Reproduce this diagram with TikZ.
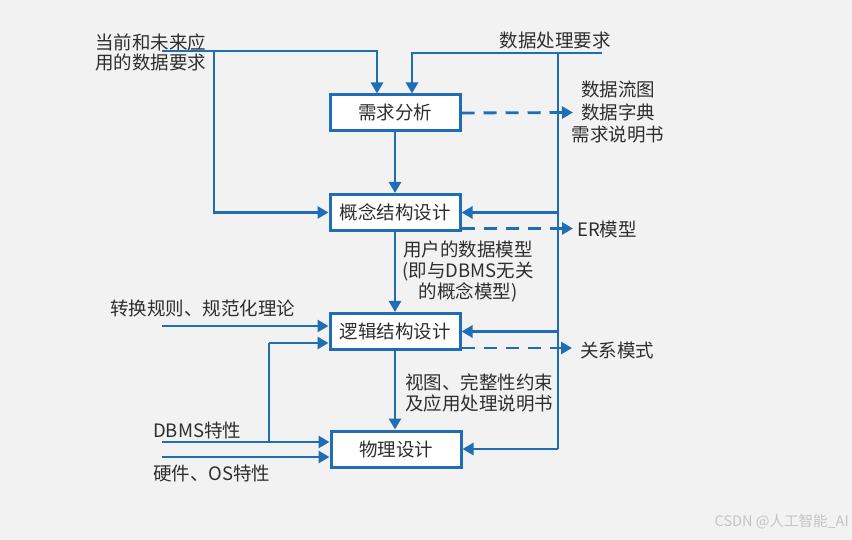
\documentclass[tikz,border=0pt]{standalone}
\usepackage{fontspec}
\setmainfont{Noto Sans CJK SC}
\usetikzlibrary{arrows.meta,calc}
\definecolor{bg}{HTML}{F2F2F2}
\definecolor{ln}{HTML}{1F6EB5}
\definecolor{tx}{HTML}{2E2E2E}
\definecolor{wm}{HTML}{C4C4C4}
\tikzset{
  stepbox/.style={draw=ln, line width=3pt, fill=white, minimum width=130pt, minimum height=36pt, inner sep=0pt, font=\fontsize{18.5}{20}\selectfont, text=tx},
  lbl/.style={inner sep=0pt, font=\fontsize{18.5}{21}\selectfont, text=tx},
  conn/.style={draw=ln, line width=2.8pt},
  arr/.style={conn, -{Triangle[length=11pt,width=12pt]}},
  darr/.style={arr, dash pattern=on 13pt off 9pt}
}
\begin{document}
\begin{tikzpicture}[x=1pt,y=-1pt]
\fill[bg] (0,0) rectangle (852,540);
\useasboundingbox (0,0) rectangle (852,540);
% boxes
\node[stepbox] (req) at (395,113) {需求分析};
\node[stepbox] (con) at (395,212.5) {概念结构设计};
\node[stepbox] (log) at (395,331.5) {逻辑结构设计};
\node[stepbox] (phy) at (396,449) {物理设计};
% labels
\node[lbl, anchor=west, align=left, font=\fontsize{18.5}{20}\selectfont] (t1) at (95,52) {当前和未来应\\用的数据要求};
\node[lbl] (t2) at (555,40) {数据处理要求};
\node[lbl, align=center, font=\fontsize{18.5}{22.5}\selectfont] (o1) at (618,112.5) {数据流图\\数据字典\\需求说明书};
\node[lbl, anchor=west] (o2) at (577,229) {ER模型};
\node[lbl, anchor=west] (o3) at (580,350) {关系模式};
\node[lbl, align=center] (m1) at (468,271) {用户的数据模型\\(即与DBMS无关\\的概念模型)};
\node[lbl, anchor=west, align=left] (m2) at (405,392.5) {视图、完整性约束\\及应用处理说明书};
\node[lbl, anchor=west] (t3) at (110,308) {转换规则、规范化理论};
\node[lbl, anchor=west] (t4) at (153,430) {DBMS特性};
\node[lbl, anchor=west] (t5) at (153,473) {硬件、OS特性};
\node[inner sep=0pt, anchor=east, text=wm, font=\fontsize{14.5}{16}\selectfont] (wmk) at (849,522) {CSDN @人工智能\_AI};
% coordinates
\coordinate (a0) at (162,51);
\coordinate (a1) at (214,51);
\coordinate (b0) at (602,53);
\coordinate (v0) at (558,53);
\coordinate (v1) at (558,449);
\coordinate (e1) at (573,112.5);
\coordinate (e2) at (573,228.5);
\coordinate (e3) at (572,348);
\coordinate (c0) at (162,326);
\coordinate (d0) at (162,442);
\coordinate (d1) at (269,442);
\coordinate (d2) at (269,343);
\coordinate (h0) at (162,457);
% connectors
\draw[arr] (a0) -| ([xshift=-18pt]req.north);
\draw[arr] (a1) |- (con.west);
\draw[arr] (b0) -| ([xshift=17pt]req.north);
\draw[conn] (v0) -- (v1);
\draw[arr] (v1) -- (phy.east);
\draw[arr] (v0 |- con.east) -- (con.east);
\draw[arr] (v0 |- log.east) -- (log.east);
\draw[arr] (req) -- (con);
\draw[arr] (con) -- (log);
\draw[arr] (log.south) -- (log.south |- phy.north);
\draw[darr] (req.east) -- (e1);
\draw[darr] (con.east |- e2) -- (e2);
\draw[darr] (log.east |- e3) -- (e3);
\draw[arr] (c0) -- (c0 -| log.west);
\draw[arr] (d0) -- (d0 -| phy.west);
\draw[conn] (d1) -- (d2);
\draw[arr] (d2) -- (d2 -| log.west);
\draw[arr] (h0) -- (h0 -| phy.west);
\end{tikzpicture}
\end{document}
